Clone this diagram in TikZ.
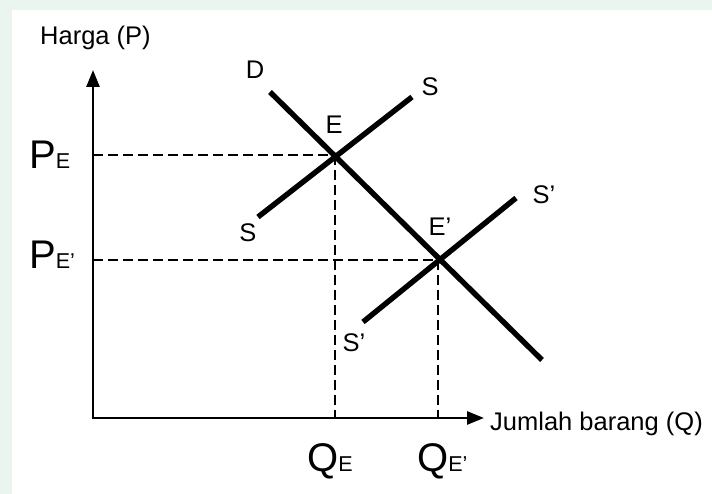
\documentclass[tikz,border=0pt]{standalone}
\usepackage{fontspec}
\setmainfont{Liberation Sans}
\usetikzlibrary{arrows.meta}

\definecolor{bggreen}{RGB}{234,245,239}
\tikzstyle{axis} = [line width=2.6pt,-{Triangle[length=17pt,width=13pt]}]
\tikzstyle{curve} = [line width=5.4pt]
\tikzstyle{guide} = [line width=2pt,dash pattern=on 10pt off 5pt]
\tikzstyle{lbl} = [inner sep=0pt,font=\fontsize{25.5}{29}\selectfont]
\tikzstyle{big} = [inner sep=0pt,anchor=base west]
\newcommand{\bigsub}[2]{{\fontsize{40}{44}\selectfont #1}{\fontsize{21.5}{24}\selectfont #2}}

\begin{document}
\begin{tikzpicture}[x=1pt,y=1pt]
	\fill[bggreen] (0,0) rectangle (712,494);
	\fill[white] (12,0) rectangle (712,484);
	\useasboundingbox (0,0) rectangle (712,494);
	% points of the chart
	\coordinate (O) at (93,76);
	\coordinate (Ytip) at (93,424);
	\coordinate (Xtip) at (484,76);
	\coordinate (E) at (335,339);
	\coordinate (Ep) at (438,234);
	\coordinate (D1) at (270,402);
	\coordinate (D2) at (542,134);
	\coordinate (S1) at (258,277);
	\coordinate (S2) at (412,397);
	\coordinate (Sp1) at (363,172);
	\coordinate (Sp2) at (516,296);
	\coordinate (PE) at (93,339);
	\coordinate (PEp) at (93,234);
	\coordinate (QE) at (335,76);
	\coordinate (QEp) at (438,76);
	% guides
	\draw[guide] (PE) -- (E);
	\draw[guide] (PEp) -- (Ep);
	\draw[guide] (E) -- (QE);
	\draw[guide] (Ep) -- (QEp);
	% axes
	\draw[axis] (O) -- (Ytip);
	\draw[axis] ([xshift=-1.3pt]O) -- (Xtip);
	% demand and supply
	\draw[curve] (D1) -- (D2);
	\draw[curve] (S1) -- (S2);
	\draw[curve] (Sp1) -- (Sp2);
	% labels
	\node[lbl,anchor=base west] (harga) at (40,449) {Harga (P)};
	\node[lbl,anchor=base west] (jumlah) at (490,63) {Jumlah barang (Q)};
	\node[lbl] (lD) at (255,424) {D};
	\node[lbl] (lE) at (334,369) {E};
	\node[lbl] (lS2) at (430,407) {S};
	\node[lbl] (lS1) at (248,261) {S};
	\node[lbl] (lEp) at (440,267) {E'};
	\node[lbl] (lSp2) at (544,299) {S'};
	\node[lbl] (lSp1) at (354,151) {S'};
	\node[big] (lPE) at (29,325) {\bigsub{P}{E}};
	\node[big] (lPEp) at (29,225) {\bigsub{P}{E'}};
	\node[big] (lQE) at (307,22) {\bigsub{Q}{E}};
	\node[big] (lQEp) at (417,22) {\bigsub{Q}{E'}};
\end{tikzpicture}
\end{document}
